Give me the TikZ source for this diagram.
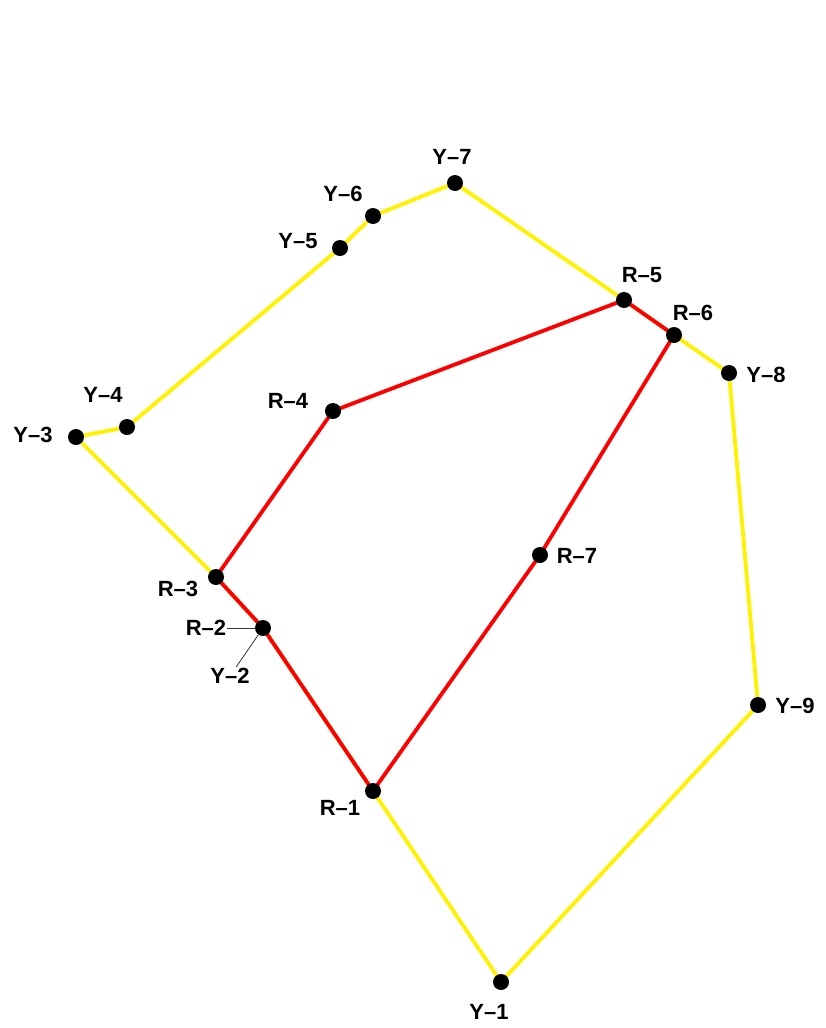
\documentclass[tikz,border=0pt]{standalone}
\usepackage{fontspec}
\setmainfont{Liberation Sans}
\usetikzlibrary{backgrounds}

\begin{document}
\begin{tikzpicture}[x=1pt,y=-1pt,
   dot/.style={circle,fill=black,inner sep=0pt,minimum size=16pt},
   lbl/.style={inner sep=1pt,font=\fontsize{22}{22}\selectfont\bfseries},
   ylwline/.style={yellow,line width=3.8pt},
   redline/.style={red,line width=3.8pt},
   pointer/.style={black!80,line width=0.8pt}]
\useasboundingbox (0,0) rectangle (825,1028);
% stations
\foreach \n/\x/\y in %
{Y1/501/982,R1/373/791,R2/263/628,R3/216/577,Y3/76/437,Y4/127/427,
 Y5/340/248,Y6/373/216,Y7/455/183,R5/624/300,R6/674/335,Y8/729/373,
 Y9/758/705,R7/540/555,R4/333/411} {
   \node[dot] (\n) at (\x,\y) {};
}
\coordinate (Y2) at (R2);
% names
\foreach \n/\x/\y/\t in %
{Y1/489/1012/Y--1,R1/340/808/R--1,R3/178/589/R--3,Y3/33/435/Y--3,
 Y4/103/395/Y--4,Y5/298/241/Y--5,Y6/343/194/Y--6,Y7/452/157/Y--7,
 R5/642/275/R--5,R6/693/313/R--6,Y8/766/375/Y--8,Y9/795/706/Y--9,
 R7/577/556/R--7,R4/288/401/R--4} {
   \node[lbl] (l\n) at (\x,\y) {\t};
}
\node[lbl] (lR2) at (206,628) {R--2};
\node[lbl] (lY2) at (230,676) {Y--2};
\draw[pointer] (lR2) -- (R2);
\draw[pointer] (lY2) -- (R2);
% lines
\begin{scope}[on background layer]
\draw[ylwline] (Y1.center) -- (R1.center) -- (Y2) -- (R3.center) -- (Y3.center)
   -- (Y4.center) -- (Y5.center) -- (Y6.center) -- (Y7.center) -- (R5.center)
   -- (R6.center) -- (Y8.center) -- (Y9.center) -- cycle;
\draw[redline] (R1.center) -- (R2.center) -- (R3.center) -- (R4.center)
   -- (R5.center) -- (R6.center) -- (R7.center) -- cycle;
\end{scope}
\end{tikzpicture}
\end{document}
